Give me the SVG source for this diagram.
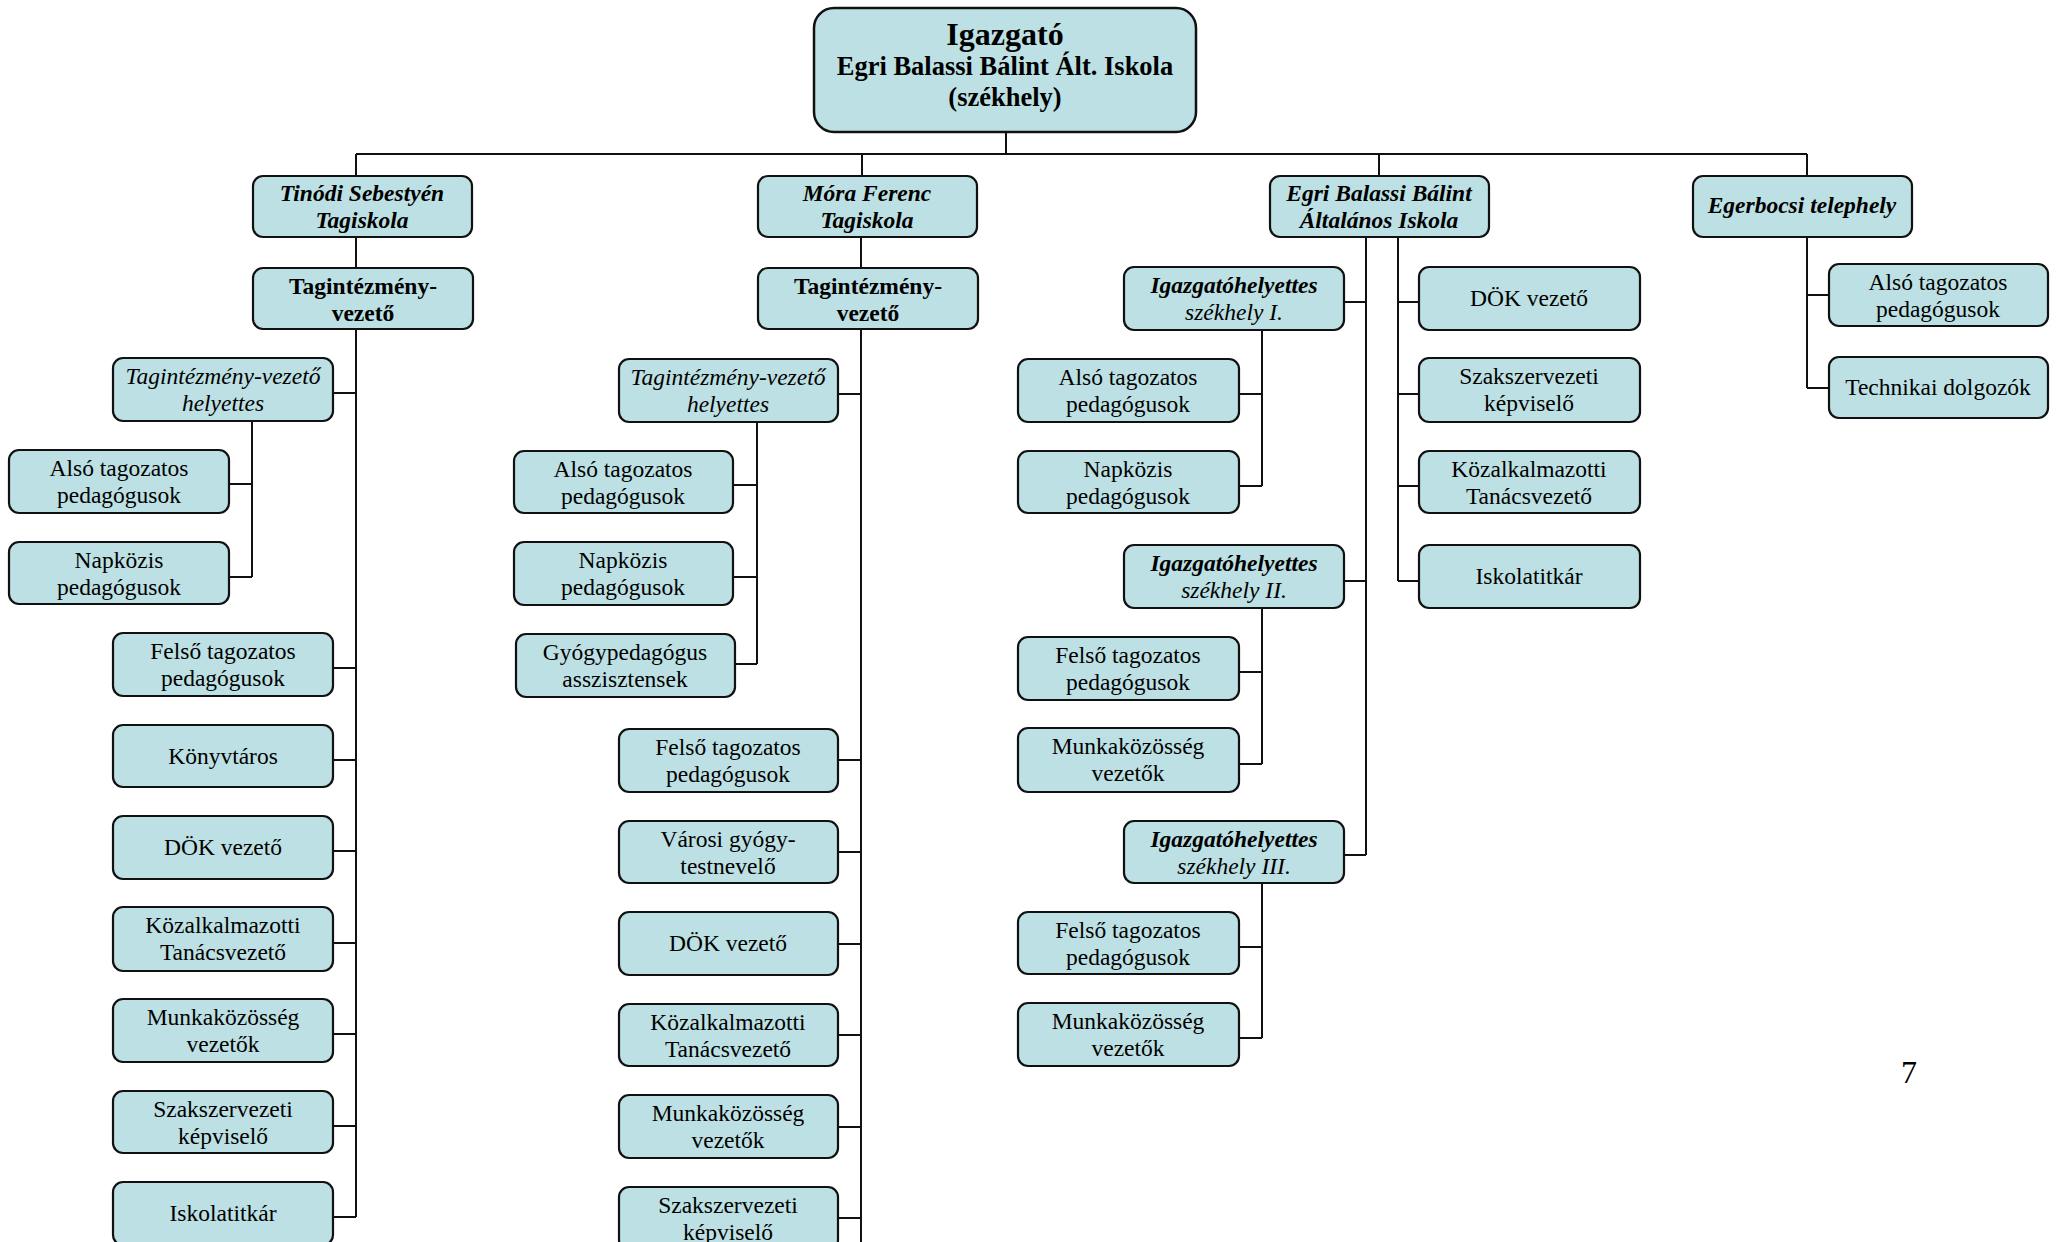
<svg xmlns="http://www.w3.org/2000/svg" width="2060" height="1242" viewBox="0 0 2060 1242">
<style>
.b{fill:#BCE0E3;stroke:#111;stroke-width:2.2}
.t{font-family:"Liberation Serif","Times New Roman",serif;font-size:23.5px;fill:#000;text-anchor:middle}
.bi{font-weight:bold;font-style:italic}
.bo{font-weight:bold}
.it{font-style:italic}
.big{font-size:32px}
.mid{font-size:26.5px}
.c{stroke:#111;stroke-width:2;fill:none}
</style>
<rect width="2060" height="1242" fill="#fff"/>
<g id="connectors" class="c">
<path d="M1006,132V154M356,154H1807M356,154V175M862,154V175M1379,154V175M1807,154V175"/>
<path d="M356,237V268M356,329V1217M333,393H356M333,668H356M333,760H356M333,851H356M333,943H356M333,1034H356M333,1126H356M333,1217H356"/>
<path d="M252,421V577M229,484H252M229,577H252"/>
<path d="M861,237V268M861,329V1242M838,394H861M838,760H861M838,852H861M838,944H861M838,1035H861M838,1127H861M838,1218H861"/>
<path d="M757,422V664M733,485H757M733,577H757M735,664H757"/>
<path d="M1366,237V855M1398,237V581M1344,302H1366M1344,581H1366M1344,855H1366M1398,302H1419M1398,394H1419M1398,486H1419M1398,581H1419"/>
<path d="M1262,330V486M1239,394H1262M1239,486H1262M1262,608V764M1239,672H1262M1239,764H1262M1262,883V1038M1239,947H1262M1239,1038H1262"/>
<path d="M1807,237V388M1807,295H1829M1807,388H1829"/>
</g>
<g id="root"><rect class="b" x="814" y="8" width="382" height="124" rx="20" style="stroke-width:2.5"/>
<text class="t bo big" x="1005" y="45">Igazgató</text>
<text class="t bo mid" x="1005" y="75">Egri Balassi Bálint Ált. Iskola</text>
<text class="t bo mid" x="1005" y="106">(székhely)</text></g>
<g id="tinodi"><rect class="b" x="253" y="176" width="219" height="61" rx="10"/><text class="t bi" x="362" y="201">Tinódi Sebestyén</text><text class="t bi" x="362" y="228">Tagiskola</text></g>
<g id="mora"><rect class="b" x="758" y="176" width="219" height="61" rx="10"/><text class="t bi" x="867" y="201">Móra Ferenc</text><text class="t bi" x="867" y="228">Tagiskola</text></g>
<g id="egri"><rect class="b" x="1270" y="176" width="219" height="61" rx="10"/><text class="t bi" x="1379" y="201">Egri Balassi Bálint</text><text class="t bi" x="1379" y="228">Általános Iskola</text></g>
<g id="egerbocsi"><rect class="b" x="1693" y="176" width="219" height="61" rx="10"/><text class="t bi" x="1802" y="213">Egerbocsi telephely</text></g>
<g id="t_vez"><rect class="b" x="253" y="268" width="220" height="61" rx="10"/><text class="t bo" x="363" y="294">Tagintézmény-</text><text class="t bo" x="363" y="321">vezető</text></g>
<g id="t_hely"><rect class="b" x="113" y="358" width="220" height="63" rx="10"/><text class="t it" x="223" y="384">Tagintézmény-vezető</text><text class="t it" x="223" y="411">helyettes</text></g>
<g id="t_also"><rect class="b" x="9" y="450" width="220" height="63" rx="10"/><text class="t" x="119" y="476">Alsó tagozatos</text><text class="t" x="119" y="503">pedagógusok</text></g>
<g id="t_napk"><rect class="b" x="9" y="542" width="220" height="62" rx="10"/><text class="t" x="119" y="568">Napközis</text><text class="t" x="119" y="595">pedagógusok</text></g>
<g id="t_felso"><rect class="b" x="113" y="633" width="220" height="63" rx="10"/><text class="t" x="223" y="659">Felső tagozatos</text><text class="t" x="223" y="686">pedagógusok</text></g>
<g id="t_konyv"><rect class="b" x="113" y="725" width="220" height="62" rx="10"/><text class="t" x="223" y="764">Könyvtáros</text></g>
<g id="t_dok"><rect class="b" x="113" y="816" width="220" height="63" rx="10"/><text class="t" x="223" y="855">DÖK vezető</text></g>
<g id="t_kozalk"><rect class="b" x="113" y="907" width="220" height="64" rx="10"/><text class="t" x="223" y="933">Közalkalmazotti</text><text class="t" x="223" y="960">Tanácsvezető</text></g>
<g id="t_munka"><rect class="b" x="113" y="999" width="220" height="63" rx="10"/><text class="t" x="223" y="1025">Munkaközösség</text><text class="t" x="223" y="1052">vezetők</text></g>
<g id="t_szak"><rect class="b" x="113" y="1091" width="220" height="62" rx="10"/><text class="t" x="223" y="1117">Szakszervezeti</text><text class="t" x="223" y="1144">képviselő</text></g>
<g id="t_iskola"><rect class="b" x="113" y="1182" width="220" height="63" rx="10"/><text class="t" x="223" y="1221">Iskolatitkár</text></g>
<g id="m_vez"><rect class="b" x="758" y="268" width="220" height="61" rx="10"/><text class="t bo" x="868" y="294">Tagintézmény-</text><text class="t bo" x="868" y="321">vezető</text></g>
<g id="m_hely"><rect class="b" x="619" y="359" width="219" height="63" rx="10"/><text class="t it" x="728" y="385">Tagintézmény-vezető</text><text class="t it" x="728" y="412">helyettes</text></g>
<g id="m_also"><rect class="b" x="514" y="451" width="219" height="62" rx="10"/><text class="t" x="623" y="477">Alsó tagozatos</text><text class="t" x="623" y="504">pedagógusok</text></g>
<g id="m_napk"><rect class="b" x="514" y="542" width="219" height="63" rx="10"/><text class="t" x="623" y="568">Napközis</text><text class="t" x="623" y="595">pedagógusok</text></g>
<g id="m_gyogy"><rect class="b" x="516" y="634" width="219" height="63" rx="10"/><text class="t" x="625" y="660">Gyógypedagógus</text><text class="t" x="625" y="687">asszisztensek</text></g>
<g id="m_felso"><rect class="b" x="619" y="729" width="219" height="63" rx="10"/><text class="t" x="728" y="755">Felső tagozatos</text><text class="t" x="728" y="782">pedagógusok</text></g>
<g id="m_varosi"><rect class="b" x="619" y="821" width="219" height="62" rx="10"/><text class="t" x="728" y="847">Városi gyógy-</text><text class="t" x="728" y="874">testnevelő</text></g>
<g id="m_dok"><rect class="b" x="619" y="912" width="219" height="63" rx="10"/><text class="t" x="728" y="951">DÖK vezető</text></g>
<g id="m_kozalk"><rect class="b" x="619" y="1004" width="219" height="62" rx="10"/><text class="t" x="728" y="1030">Közalkalmazotti</text><text class="t" x="728" y="1057">Tanácsvezető</text></g>
<g id="m_munka"><rect class="b" x="619" y="1095" width="219" height="63" rx="10"/><text class="t" x="728" y="1121">Munkaközösség</text><text class="t" x="728" y="1148">vezetők</text></g>
<g id="m_szak"><rect class="b" x="619" y="1187" width="219" height="63" rx="10"/><text class="t" x="728" y="1213">Szakszervezeti</text><text class="t" x="728" y="1240">képviselő</text></g>
<g id="e_igh1"><rect class="b" x="1124" y="267" width="220" height="63" rx="10"/><text class="t bi" x="1234" y="293">Igazgatóhelyettes</text><text class="t it" x="1234" y="320">székhely I.</text></g>
<g id="e_also"><rect class="b" x="1018" y="359" width="221" height="63" rx="10"/><text class="t" x="1128" y="385">Alsó tagozatos</text><text class="t" x="1128" y="412">pedagógusok</text></g>
<g id="e_napk"><rect class="b" x="1018" y="451" width="221" height="62" rx="10"/><text class="t" x="1128" y="477">Napközis</text><text class="t" x="1128" y="504">pedagógusok</text></g>
<g id="e_igh2"><rect class="b" x="1124" y="545" width="220" height="63" rx="10"/><text class="t bi" x="1234" y="571">Igazgatóhelyettes</text><text class="t it" x="1234" y="598">székhely II.</text></g>
<g id="e_felso2"><rect class="b" x="1018" y="637" width="221" height="63" rx="10"/><text class="t" x="1128" y="663">Felső tagozatos</text><text class="t" x="1128" y="690">pedagógusok</text></g>
<g id="e_munka2"><rect class="b" x="1018" y="728" width="221" height="64" rx="10"/><text class="t" x="1128" y="754">Munkaközösség</text><text class="t" x="1128" y="781">vezetők</text></g>
<g id="e_igh3"><rect class="b" x="1124" y="821" width="220" height="62" rx="10"/><text class="t bi" x="1234" y="847">Igazgatóhelyettes</text><text class="t it" x="1234" y="874">székhely III.</text></g>
<g id="e_felso3"><rect class="b" x="1018" y="912" width="221" height="62" rx="10"/><text class="t" x="1128" y="938">Felső tagozatos</text><text class="t" x="1128" y="965">pedagógusok</text></g>
<g id="e_munka3"><rect class="b" x="1018" y="1003" width="221" height="63" rx="10"/><text class="t" x="1128" y="1029">Munkaközösség</text><text class="t" x="1128" y="1056">vezetők</text></g>
<g id="e_dok"><rect class="b" x="1419" y="267" width="221" height="63" rx="10"/><text class="t" x="1529" y="306">DÖK vezető</text></g>
<g id="e_szak"><rect class="b" x="1419" y="358" width="221" height="64" rx="10"/><text class="t" x="1529" y="384">Szakszervezeti</text><text class="t" x="1529" y="411">képviselő</text></g>
<g id="e_kozalk"><rect class="b" x="1419" y="451" width="221" height="62" rx="10"/><text class="t" x="1529" y="477">Közalkalmazotti</text><text class="t" x="1529" y="504">Tanácsvezető</text></g>
<g id="e_iskola"><rect class="b" x="1419" y="545" width="221" height="63" rx="10"/><text class="t" x="1529" y="584">Iskolatitkár</text></g>
<g id="g_also"><rect class="b" x="1829" y="264" width="219" height="62" rx="10"/><text class="t" x="1938" y="290">Alsó tagozatos</text><text class="t" x="1938" y="317">pedagógusok</text></g>
<g id="g_tech"><rect class="b" x="1829" y="357" width="219" height="61" rx="10"/><text class="t" x="1938" y="395">Technikai dolgozók</text></g>
<text class="t big" x="1909" y="1083">7</text>
</svg>
